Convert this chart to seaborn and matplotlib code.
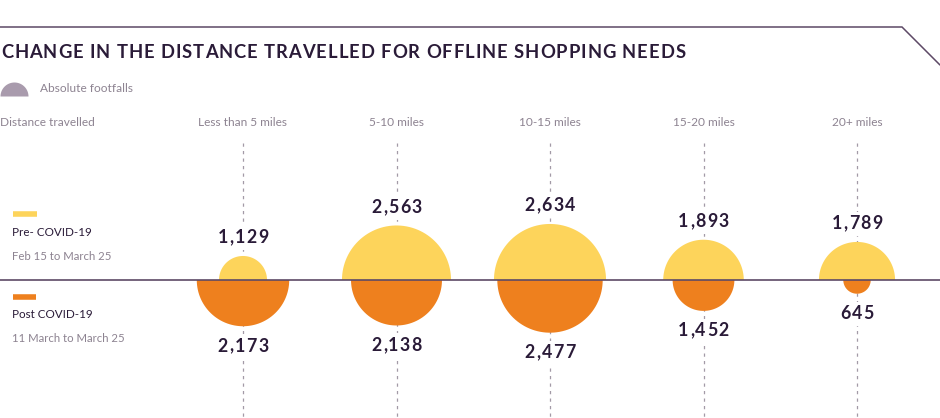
import numpy as np
import pandas as pd
import matplotlib
matplotlib.use("Agg")
import matplotlib.pyplot as plt
from matplotlib.path import Path
import seaborn as sns

# ---- data ----
categories = ["Less than 5 miles", "5-10 miles", "10-15 miles", "15-20 miles", "20+ miles"]
pre_covid = [1129, 2563, 2634, 1893, 1789]
post_covid = [2173, 2138, 2477, 1452, 645]
title = "CHANGE IN THE DISTANCE TRAVELLED FOR OFFLINE SHOPPING NEEDS"

sns.set_theme(style="white")
plt.rcParams["font.family"] = ["Lato", "DejaVu Sans"]

YELLOW = "#FDD45B"
ORANGE = "#EE801E"
DARK = "#2a1b38"
GREY = "#8d8391"
LINE = "#5d4966"

W, H, DPI = 940, 418, 100
fig = plt.figure(figsize=(W / DPI, H / DPI), dpi=DPI)
ax = fig.add_axes([0, 0, 1, 1])
renderer = fig.canvas.get_renderer()

X0, STEP, BASE = 243, 153.5, 280
PX_PER_UNIT = 1 / 47.0  # radius in px per footfall

df = pd.DataFrame({
    "category": categories * 2,
    "period": ["Pre"] * 5 + ["Post"] * 5,
    "value": pre_covid + post_covid,
})
df["x"] = df["category"].map({c: X0 + i * STEP for i, c in enumerate(categories)})
df["y"] = BASE


def half_disc(top=True):
    a = np.linspace(0, np.pi, 60) if top else np.linspace(np.pi, 2 * np.pi, 60)
    verts = np.column_stack([np.cos(a), np.sin(a)])
    verts = np.vstack([verts, verts[:1]])
    codes = [Path.MOVETO] + [Path.LINETO] * (len(verts) - 2) + [Path.CLOSEPOLY]
    return Path(verts, codes)


def size_of(v):
    diam_pt = 2 * v * PX_PER_UNIT * 72 / DPI
    return diam_pt ** 2


# dashed guide lines
xs = [X0 + i * STEP for i in range(len(categories))]
ax.vlines(xs, 143, H, colors="#a39aa7", linestyles=(0, (2.6, 3.4)), lw=0.9, zorder=1)

pre_df = df[df.period == "Pre"]
post_df = df[df.period == "Post"]
sns.scatterplot(data=pre_df, x="x", y="y", size="value",
                sizes={v: size_of(v) for v in pre_df["value"]},
                marker=half_disc(True), color=YELLOW, linewidth=0, legend=False, ax=ax, zorder=3)
sns.scatterplot(data=post_df, x="x", y="y", size="value",
                sizes={v: size_of(v) for v in post_df["value"]},
                marker=half_disc(False), color=ORANGE, linewidth=0, legend=False, ax=ax, zorder=3)
ax.set_xlim(0, W)
ax.set_ylim(H, 0)
ax.axis("off")

# baseline
ax.hlines(BASE, 0, W, colors=LINE, lw=1.2, zorder=4)

# top decoration
ax.plot([0, 902, 940], [27, 27, 65], color=LINE, lw=1.1, solid_joinstyle="miter")


def text_width(s, **kw):
    t = ax.text(0, 0, s, **kw)
    w = t.get_window_extent(renderer).width
    t.remove()
    return w


def spaced_text(x, y, s, spacing, ha="left", bg=False, **kw):
    ref = text_width(".", **kw)
    total = text_width(s, **kw) + spacing * (len(s) - 1)
    start = x - total / 2 if ha == "center" else x
    if bg:
        bt = ax.text(start + total / 2, y, s, ha="center", va="center", alpha=0, **kw)
        bt.set_bbox(dict(facecolor="white", edgecolor="none", pad=2.5, alpha=1))
        bt.set_zorder(4.5)
    for i, ch in enumerate(s):
        if ch == " ":
            continue
        off = (text_width(s[:i] + ".", **kw) - ref) if i else 0
        ax.text(start + off + i * spacing, y, ch, ha="left", va="center", **kw)


spaced_text(1, 52, title, 0.95, fontsize=13.2, fontweight="bold", color=DARK, zorder=5)

# legend marker
ax.scatter([14], [96], s=size_of(14 / PX_PER_UNIT), marker=half_disc(True), color="#a99bad",
           linewidths=0, zorder=3)
FS = 8.6
ax.text(40, 89, "Absolute footfalls", fontsize=FS, color=GREY, va="center", ha="left")
ax.text(0, 122, "Distance travelled", fontsize=FS, color=GREY, va="center", ha="left")
for x, c in zip(xs, categories):
    ax.text(x, 122, c, fontsize=FS, color=GREY, va="center", ha="center")

# left legend
ax.plot([13, 37], [214, 214], color=YELLOW, lw=4, solid_capstyle="butt")
ax.text(12, 233, "Pre- COVID-19", fontsize=8.4, color=DARK, va="center", ha="left")
ax.text(12, 257, "Feb 15 to March 25", fontsize=8.2, color=GREY, va="center", ha="left")
ax.plot([13, 36], [297, 297], color=ORANGE, lw=4, solid_capstyle="butt")
ax.text(12, 314, "Post COVID-19", fontsize=8.4, color=DARK, va="center", ha="left")
ax.text(12, 338, "11 March to March 25", fontsize=8.2, color=GREY, va="center", ha="left")

# value labels
for _, r in df.iterrows():
    rad = r["value"] * PX_PER_UNIT
    y = BASE - rad - 18 if r["period"] == "Pre" else BASE + rad + 20
    spaced_text(r["x"], y, f"{r['value']:,}", 1.3, ha="center", bg=True,
                fontsize=12.8, fontweight="bold", color=DARK, zorder=5)

fig.savefig("out.png", dpi=DPI)
